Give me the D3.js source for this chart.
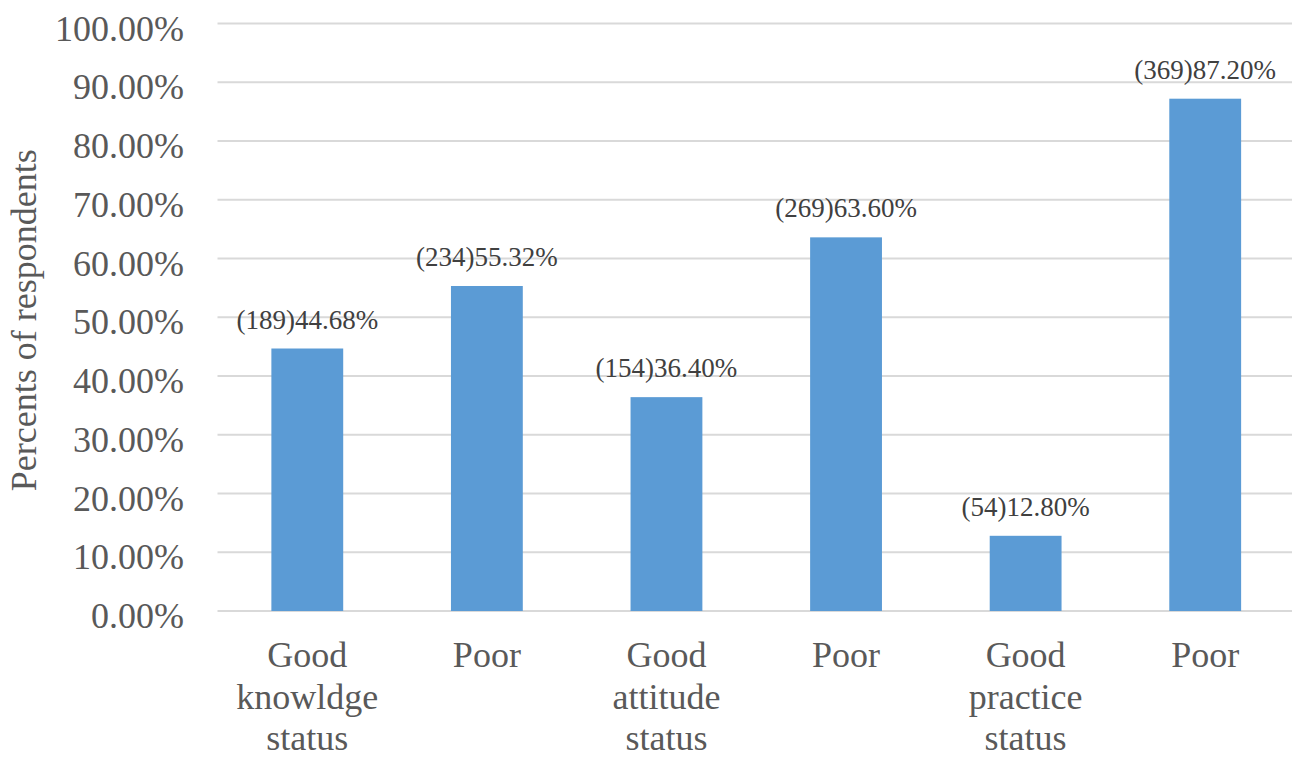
<!DOCTYPE html>
<html>
<head>
<meta charset="utf-8">
<script src="https://cdn.jsdelivr.net/npm/d3@7"></script>
<style>
  body { margin: 0; background: #fff; }
  text { font-family: 'Liberation Serif', Tinos, 'Times New Roman', serif; }
</style>
</head>
<body>
<svg id="chart" width="1292" height="757" font-family="Liberation Serif, Tinos, Times New Roman, serif"></svg>
<script>
var categories = [
  ["Good", "knowldge", "status"],
  ["Poor"],
  ["Good", "attitude", "status"],
  ["Poor"],
  ["Good", "practice", "status"],
  ["Poor"]
];
var percents = [44.68, 55.32, 36.40, 63.60, 12.80, 87.20];
var counts = [189, 234, 154, 269, 54, 369];
var yTicks = [0, 10, 20, 30, 40, 50, 60, 70, 80, 90, 100];

var svg = d3.select('#chart');
var margin = {top: 23.5, left: 217.5};
var plotRight = 1295;

var x = d3.scaleBand()
  .domain(d3.range(categories.length))
  .range([margin.left, plotRight])
  .paddingInner(0.6)
  .paddingOuter(0.3);

var y = d3.scaleLinear().domain([0, 100]).range([611, margin.top]);

// gridlines
svg.append('g').selectAll('line')
  .data(yTicks)
  .enter().append('line')
  .attr('x1', margin.left).attr('x2', plotRight)
  .attr('y1', function(d) { return y(d); })
  .attr('y2', function(d) { return y(d); })
  .attr('stroke', '#d9d9d9')
  .attr('stroke-width', 2);

// y tick labels
svg.append('g').selectAll('text')
  .data(yTicks)
  .enter().append('text')
  .attr('x', 184)
  .attr('y', function(d) { return y(d) + 17; })
  .attr('text-anchor', 'end')
  .attr('font-size', 36)
  .attr('fill', '#595959')
  .text(function(d) { return d.toFixed(2) + '%'; });

// bars
svg.append('g').selectAll('rect')
  .data(percents)
  .enter().append('rect')
  .attr('x', function(d, i) { return x(i); })
  .attr('width', x.bandwidth())
  .attr('y', function(d) { return y(d); })
  .attr('height', function(d) { return y(0) - y(d); })
  .attr('fill', '#5b9bd5');

// value labels
svg.append('g').selectAll('text')
  .data(percents)
  .enter().append('text')
  .attr('x', function(d, i) { return x(i) + x.bandwidth() / 2; })
  .attr('y', function(d) { return y(d) - 20; })
  .attr('text-anchor', 'middle')
  .attr('font-size', 27)
  .attr('fill', '#404040')
  .text(function(d, i) { return '(' + counts[i] + ')' + d.toFixed(2) + '%'; });

// category labels
var cat = svg.append('g').selectAll('text')
  .data(categories)
  .enter().append('text')
  .attr('text-anchor', 'middle')
  .attr('font-size', 36)
  .attr('fill', '#595959');
cat.each(function(lines, i) {
  d3.select(this).selectAll('tspan')
    .data(lines)
    .enter().append('tspan')
    .attr('x', x(i) + x.bandwidth() / 2)
    .attr('y', function(d, j) { return 667 + j * 41.5; })
    .text(function(d) { return d; });
});

// y axis title
svg.append('text')
  .attr('transform', 'translate(36,' + (y(50) + 3) + ') rotate(-90)')
  .attr('text-anchor', 'middle')
  .attr('font-size', 36)
  .attr('fill', '#595959')
  .text('Percents of respondents');
</script>
</body>
</html>
